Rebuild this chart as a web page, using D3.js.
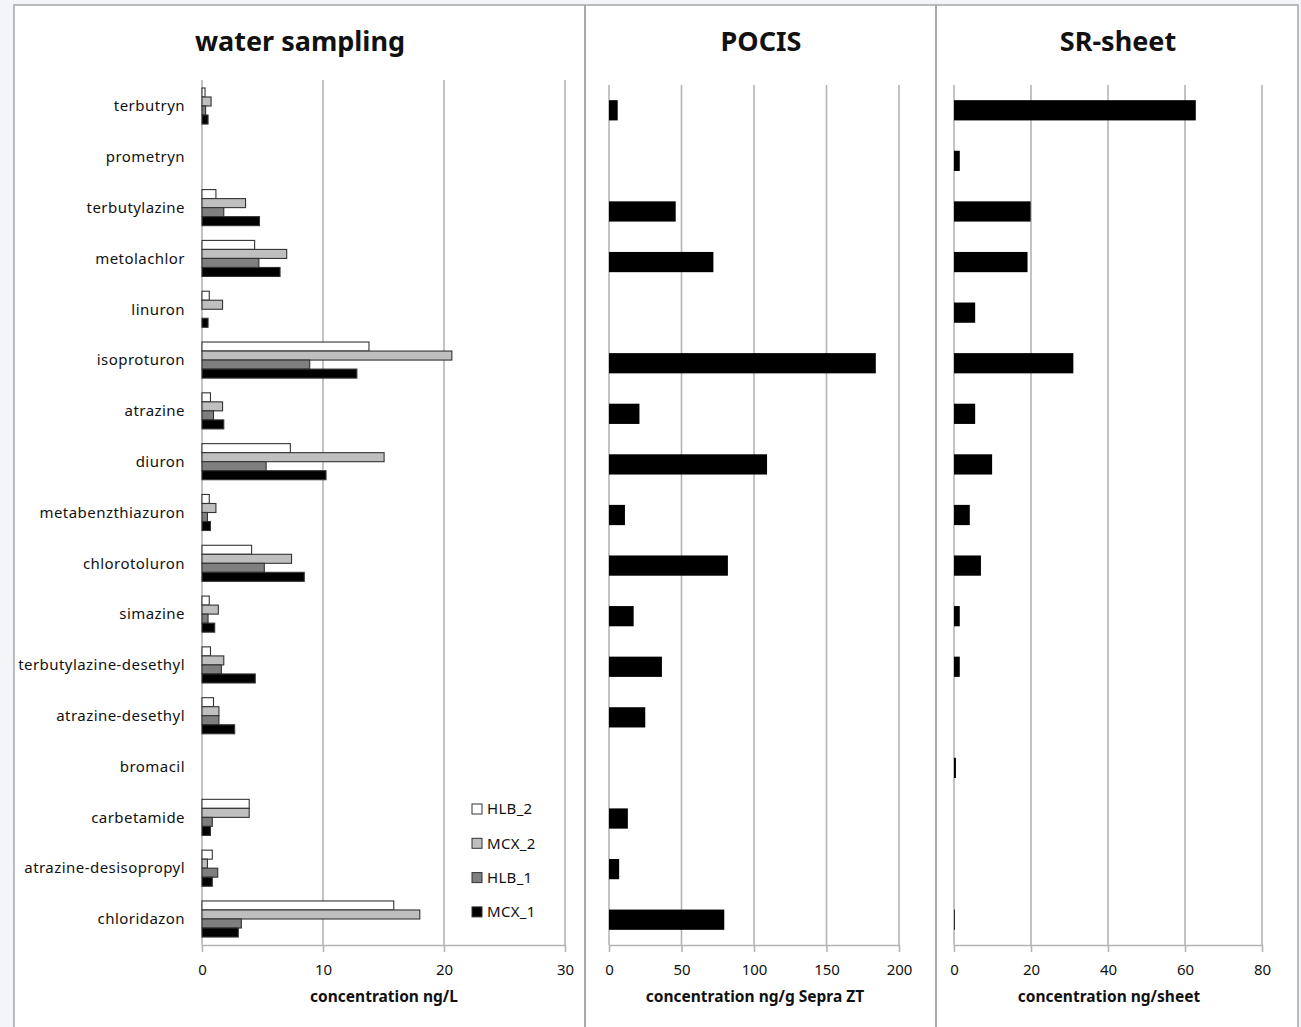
<!DOCTYPE html>
<html>
<head>
<meta charset="utf-8">
<script src="https://cdn.jsdelivr.net/npm/d3@7"></script>
<style>
  body { margin: 0; background: #f3f5f9; }
  text { font-family: "Noto Sans", "Open Sans", sans-serif; fill: #111; }
</style>
</head>
<body>
<div id="chart-area"></div>
<script>
const width = 1301;
const height = 1027;

// compounds, top to bottom
const compounds = ["terbutryn", "prometryn", "terbutylazine", "metolachlor", "linuron",
  "isoproturon", "atrazine", "diuron", "metabenzthiazuron", "chlorotoluron", "simazine",
  "terbutylazine-desethyl", "atrazine-desethyl", "bromacil", "carbetamide",
  "atrazine-desisopropyl", "chloridazon"];

const series = ["HLB_2", "MCX_2", "HLB_1", "MCX_1"];
const seriesColors = ["#ffffff", "#bfbfbf", "#7f7f7f", "#000000"];

// water sampling, ng/L
const waterHLB2 = [0.25, 0, 1.15, 4.35, 0.6, 13.8, 0.7, 7.3, 0.6, 4.1, 0.6, 0.7, 0.95, 0, 3.9, 0.85, 15.85];
const waterMCX2 = [0.75, 0, 3.6, 7.0, 1.7, 20.65, 1.7, 15.05, 1.15, 7.4, 1.35, 1.8, 1.4, 0, 3.9, 0.45, 18.0];
const waterHLB1 = [0.3, 0, 1.8, 4.7, 0, 8.9, 0.95, 5.3, 0.45, 5.15, 0.5, 1.6, 1.4, 0, 0.85, 1.3, 3.25];
const waterMCX1 = [0.5, 0, 4.75, 6.45, 0.5, 12.8, 1.8, 10.25, 0.7, 8.45, 1.05, 4.4, 2.7, 0, 0.7, 0.85, 3.0];

// POCIS, ng/g Sepra ZT
const pocis = [6, 0, 46, 72, 0, 184, 21, 109, 11, 82, 17, 36.5, 25, 0, 13, 7, 79.5];

// SR-sheet, ng/sheet
const srSheet = [62.8, 1.5, 19.9, 19.1, 5.5, 31, 5.5, 9.9, 4.1, 7.0, 1.5, 1.5, 0, 0.5, 0, 0, 0.2];

const waterTicks = [0, 10, 20, 30];
const pocisTicks = [0, 50, 100, 150, 200];
const srTicks = [0, 20, 40, 60, 80];

const gridColor = "#b4b4b4";
const bottom = 945;

const svg = d3.select("#chart-area")
  .append("svg")
  .attr("width", width)
  .attr("height", height);

// frame
svg.append("rect")
  .attr("x", 14).attr("y", 5)
  .attr("width", 1284).attr("height", 1030)
  .attr("fill", "#fff")
  .attr("stroke", "#bbbbbb")
  .attr("stroke-width", 2);

[585, 936].forEach(x => {
  svg.append("line")
    .attr("x1", x).attr("x2", x)
    .attr("y1", 5).attr("y2", height)
    .attr("stroke", "#a9a9a9")
    .attr("stroke-width", 2);
});

//Draws gridlines, axis and titles for one panel, returns x scale
function panel(opts) {
  const x = d3.scaleLinear()
    .domain([opts.ticks[0], opts.ticks[opts.ticks.length - 1]])
    .range(opts.range);

  const g = svg.append("g");

  g.selectAll(".grid")
    .data(opts.ticks)
    .enter().append("line")
    .attr("class", "grid")
    .attr("x1", d => x(d)).attr("x2", d => x(d))
    .attr("y1", opts.top).attr("y2", bottom)
    .attr("stroke", gridColor)
    .attr("stroke-width", 1.6);

  const axis = d3.axisBottom(x)
    .tickValues(opts.ticks)
    .tickSizeInner(7)
    .tickSizeOuter(0)
    .tickPadding(12);

  const ax = g.append("g")
    .attr("transform", `translate(0,${bottom})`)
    .call(axis);
  ax.select(".domain").attr("stroke", gridColor).attr("stroke-width", 1.6);
  ax.selectAll(".tick line").attr("stroke", gridColor).attr("stroke-width", 1.6);
  ax.selectAll(".tick text")
    .attr("font-size", 15)
    .attr("font-family", "Noto Sans")
    .attr("fill", "#111");

  g.append("text")
    .attr("x", opts.titleX)
    .attr("y", 51)
    .attr("text-anchor", "middle")
    .attr("font-size", 27)
    .attr("font-weight", "bold")
    .text(opts.title);

  g.append("text")
    .attr("x", opts.labelX)
    .attr("y", 1002)
    .attr("text-anchor", "middle")
    .attr("font-size", 15.5)
    .attr("font-weight", "bold")
    .text(opts.label);

  return x;
}

// ---- water sampling ----
const xWater = panel({ range: [202, 565], ticks: waterTicks, top: 80,
  title: "water sampling", titleX: 300, label: "concentration ng/L", labelX: 384 });

const yWater = d3.scaleBand()
  .domain(compounds)
  .range([80.6, 944.4])
  .paddingInner(0.29)
  .paddingOuter(0.145);

const ySeries = d3.scaleBand()
  .domain(series)
  .range([0, yWater.bandwidth()]);

// category labels
svg.append("g").selectAll("text")
  .data(compounds)
  .enter().append("text")
  .attr("x", 185)
  .attr("y", d => yWater(d) + yWater.bandwidth() / 2)
  .attr("dy", "0.35em")
  .attr("text-anchor", "end")
  .attr("font-size", 15)
  .attr("letter-spacing", 0.45)
  .text(d => d);

const waterValues = [waterHLB2, waterMCX2, waterHLB1, waterMCX1];
const waterRows = [];
series.forEach((s, i) => {
  compounds.forEach((c, j) => {
    if (waterValues[i][j] > 0) waterRows.push({ c: c, s: s, i: i, v: waterValues[i][j] });
  });
});

svg.append("g").selectAll("rect")
  .data(waterRows)
  .enter().append("rect")
  .attr("x", xWater(0))
  .attr("y", d => yWater(d.c) + ySeries(d.s))
  .attr("width", d => xWater(d.v) - xWater(0))
  .attr("height", ySeries.bandwidth())
  .attr("fill", d => seriesColors[d.i])
  .attr("stroke", "#333")
  .attr("stroke-width", 1.1);

// legend
const legend = svg.append("g").selectAll("g")
  .data(series)
  .enter().append("g")
  .attr("transform", (d, i) => `translate(472,${809 + i * 34.3})`);

legend.append("rect")
  .attr("x", 0).attr("y", -5)
  .attr("width", 10).attr("height", 10)
  .attr("fill", (d, i) => seriesColors[i])
  .attr("stroke", "#333")
  .attr("stroke-width", 1);

legend.append("text")
  .attr("x", 15)
  .attr("dy", "0.35em")
  .attr("font-size", 15)
  .attr("letter-spacing", 0.3)
  .text(d => d);

// ---- POCIS and SR-sheet ----
const ySingle = d3.scaleBand()
  .domain(compounds)
  .range([85, 945])
  .paddingInner(0.6)
  .paddingOuter(0.3);

function singleBars(x, values) {
  svg.append("g").selectAll("rect")
    .data(compounds.map((c, j) => ({ c: c, v: values[j] })).filter(d => d.v > 0))
    .enter().append("rect")
    .attr("x", x(0))
    .attr("y", d => ySingle(d.c))
    .attr("width", d => x(d.v) - x(0))
    .attr("height", ySingle.bandwidth())
    .attr("fill", "#000");
}

const xPocis = panel({ range: [609, 899], ticks: pocisTicks, top: 85,
  title: "POCIS", titleX: 761, label: "concentration ng/g Sepra ZT", labelX: 755 });
singleBars(xPocis, pocis);

const xSr = panel({ range: [954, 1262], ticks: srTicks, top: 85,
  title: "SR-sheet", titleX: 1118, label: "concentration ng/sheet", labelX: 1109 });
singleBars(xSr, srSheet);
</script>
</body>
</html>
